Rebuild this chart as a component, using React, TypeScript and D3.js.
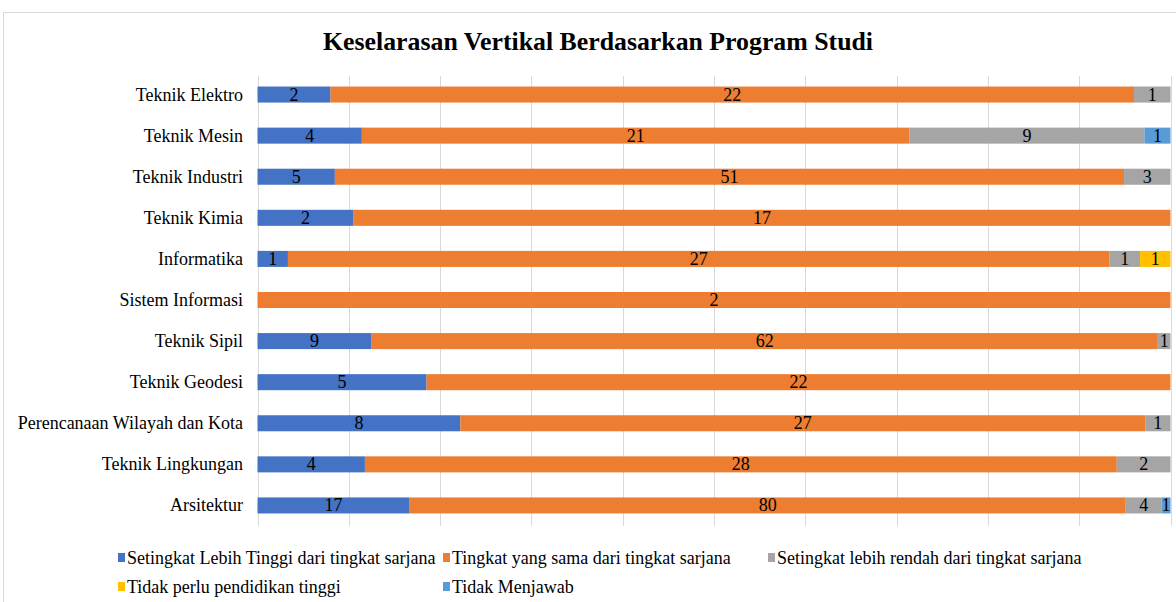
import React from "react";
import * as d3 from "d3";

const categories = [
  "Teknik Elektro",
  "Teknik Mesin",
  "Teknik Industri",
  "Teknik Kimia",
  "Informatika",
  "Sistem Informasi",
  "Teknik Sipil",
  "Teknik Geodesi",
  "Perencanaan Wilayah dan Kota",
  "Teknik Lingkungan",
  "Arsitektur",
];

const seriesNames = [
  "Setingkat Lebih Tinggi dari tingkat sarjana",
  "Tingkat yang sama dari tingkat sarjana",
  "Setingkat lebih rendah dari tingkat sarjana",
  "Tidak perlu pendidikan tinggi",
  "Tidak Menjawab",
];

const lebihTinggi = [2, 4, 5, 2, 1, 0, 9, 5, 8, 4, 17];
const samaTingkat = [22, 21, 51, 17, 27, 2, 62, 22, 27, 28, 80];
const lebihRendah = [1, 9, 3, 0, 1, 0, 1, 0, 1, 2, 4];
const tidakPerlu = [0, 0, 0, 0, 1, 0, 0, 0, 0, 0, 0];
const tidakMenjawab = [0, 1, 0, 0, 0, 0, 0, 0, 0, 0, 1];

const seriesValues = [lebihTinggi, samaTingkat, lebihRendah, tidakPerlu, tidakMenjawab];
const colors = ["#4472C4", "#ED7D31", "#A5A5A5", "#FFC000", "#5B9BD5"];
const xTicks = [0, 0.1, 0.2, 0.3, 0.4, 0.5, 0.6, 0.7, 0.8, 0.9, 1];

const W = 1176;
const H = 602;
const FONT = "'Liberation Serif', 'Times New Roman', serif";
const FS = 18;

export default function App() {
  const x = d3.scaleLinear().domain([0, 1]).range([257.5, 1170.5]);
  const y = d3
    .scaleBand<string>()
    .domain(categories)
    .range([74, 526])
    .paddingInner(0.61)
    .paddingOuter(0.305);

  const rows = categories.map((c, i) => {
    const vals = seriesValues.map((s) => s[i]);
    const total = d3.sum(vals);
    let cum = 0;
    const segs = vals.map((v, k) => {
      const x0 = cum / total;
      cum += v;
      const x1 = cum / total;
      return { v, k, x0, x1 };
    });
    return { c, segs };
  });

  const legendItems = [
    { k: 0, x: 118, y: 558 },
    { k: 1, x: 443, y: 558 },
    { k: 2, x: 768, y: 558 },
    { k: 3, x: 118, y: 587 },
    { k: 4, x: 443, y: 587 },
  ];

  return (
    <svg
      width={W}
      height={H}
      style={{ position: "absolute", left: 0, top: 0, background: "#fff" }}
      fontFamily={FONT}
    >
      <rect x={0} y={0} width={W} height={H} fill="#fff" />
      <path d={`M3.5,${H} V12.5 H${W}`} fill="none" stroke="#d9d9d9" strokeWidth={1} />
      <text
        x={323}
        y={50}
        fontSize={26}
        fontWeight="bold"
        fill="#000"
        textLength={550}
        lengthAdjust="spacingAndGlyphs"
      >
        Keselarasan Vertikal Berdasarkan Program Studi
      </text>
      {xTicks.map((t) => (
        <line
          key={t}
          x1={Math.round(x(t)) + 0.5}
          x2={Math.round(x(t)) + 0.5}
          y1={76}
          y2={526}
          stroke="#d9d9d9"
          strokeWidth={1}
        />
      ))}
      {rows.map((r) => {
        const by = y(r.c)!;
        const bh = y.bandwidth();
        return (
          <g key={r.c}>
            <text
              x={243}
              y={by + bh / 2 + 6}
              textAnchor="end"
              fontSize={FS}
              fill="#000"
            >
              {r.c}
            </text>
            {r.segs
              .filter((s) => s.v > 0)
              .map((s) => (
                <g key={s.k}>
                  <rect
                    x={x(s.x0)}
                    y={by}
                    width={x(s.x1) - x(s.x0)}
                    height={bh}
                    fill={colors[s.k]}
                  />
                  <text
                    x={(x(s.x0) + x(s.x1)) / 2}
                    y={by + bh / 2 + 6}
                    textAnchor="middle"
                    fontSize={FS}
                    fill="#000"
                  >
                    {s.v}
                  </text>
                </g>
              ))}
          </g>
        );
      })}
      {legendItems.map((it) => (
        <g key={it.k}>
          <rect x={it.x} y={it.y - 5} width={7} height={9} fill={colors[it.k]} />
          <text x={it.x + 9} y={it.y + 6} fontSize={FS} fill="#000">
            {seriesNames[it.k]}
          </text>
        </g>
      ))}
    </svg>
  );
}
